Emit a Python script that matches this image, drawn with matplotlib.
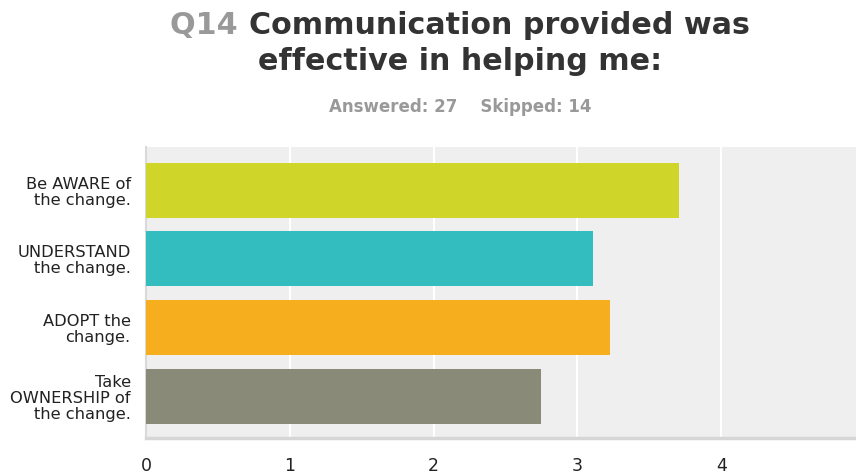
import matplotlib.pyplot as plt

plt.rcParams['font.family'] = ['DejaVu Sans']

# Survey results for Q14
answers = ['Be AWARE of\nthe change.', 'UNDERSTAND\nthe change.',
           'ADOPT the\nchange.', 'Take\nOWNERSHIP of\nthe change.']
averages = [3.71, 3.11, 3.23, 2.75]
colors = ['#cfd629', '#33bdbf', '#f6ae1f', '#898a78']
x_ticks = [0, 1, 2, 3, 4, 5]
answered = 27
skipped = 14

W, H = 856, 475
fig = plt.figure(figsize=(W / 100, H / 100), dpi=100)
ax = fig.add_axes([146 / W, (H - 438) / H, (865 - 146) / W, (438 - 147) / H])

ax.set_facecolor('#efefef')
pos = list(range(len(answers)))
ax.barh(pos, averages, height=0.8, color=colors, zorder=3)
ax.set_ylim(3.61, -0.63)
ax.set_xlim(0, 5)

ax.set_xticks(x_ticks)
ax.set_xticklabels([str(t) for t in x_ticks], fontsize=12.5, color='#222222')
ax.set_yticks(pos)
ax.set_yticklabels(answers, fontsize=11.7, color='#222222', linespacing=1.08)
ax.tick_params(axis='x', length=0, pad=14)
ax.tick_params(axis='y', length=0, pad=11)

ax.grid(axis='x', color='white', linewidth=1.5, zorder=1)
ax.grid(axis='y', visible=False)
for s in ['top', 'right']:
    ax.spines[s].set_visible(False)
ax.spines['left'].set_color('#d9d9d9')
ax.spines['left'].set_linewidth(1.5)
ax.spines['bottom'].set_color('#d6d6d6')
ax.spines['bottom'].set_linewidth(2.5)

# title: grey question number followed by dark text
cx = 460 / W
renderer = fig.canvas.get_renderer()
q = fig.text(0, 0, 'Q14 ', fontsize=21.7, fontweight='bold', color='#999999')
rest = fig.text(0, 0, 'Communication provided was', fontsize=21.7,
                fontweight='bold', color='#333333')
wq = q.get_window_extent(renderer).width
wr = rest.get_window_extent(renderer).width
left = cx * W - (wq + wr) / 2
y1 = 1 - 25 / H
q.set_position((left / W, y1))
q.set_va('center')
rest.set_position(((left + wq) / W, y1))
rest.set_va('center')
fig.text(cx, 1 - 61 / H, 'effective in helping me:', fontsize=21.7,
         fontweight='bold', color='#333333', ha='center', va='center')

fig.text(cx, 1 - 107 / H, f'Answered: {answered}    Skipped: {skipped}',
         fontsize=12, fontweight='bold', color='#999999',
         ha='center', va='center')

fig.savefig('out.png', dpi=100)
